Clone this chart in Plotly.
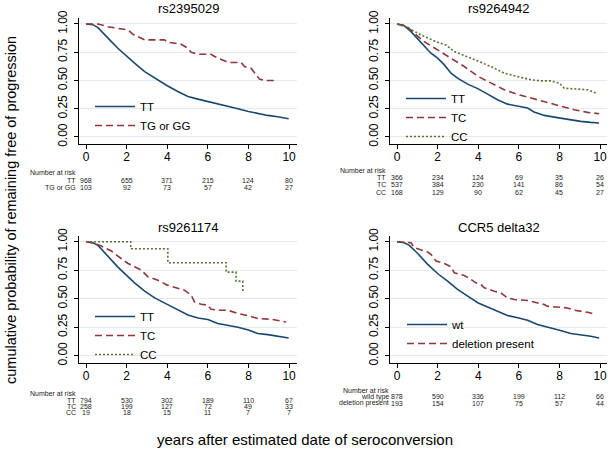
import plotly.graph_objects as go
from plotly.subplots import make_subplots

# ---- data (years, survival probability) ----
# rs2395029
tl_tt_t = [0, 0.34, 0.59, 0.92, 1.25, 1.57, 2.0, 2.39, 2.89, 3.38, 4.0, 4.52, 5.02, 5.51, 6.0, 6.49, 6.98, 7.48, 8.0, 8.46, 8.95, 9.44, 9.98]
tl_tt_s = [1.0, 0.994, 0.968, 0.903, 0.844, 0.785, 0.712, 0.653, 0.579, 0.521, 0.453, 0.403, 0.359, 0.335, 0.315, 0.294, 0.271, 0.25, 0.226, 0.206, 0.191, 0.179, 0.162]
tl_tg_t = [0, 0.59, 1.08, 1.74, 2.07, 2.31, 2.72, 2.89, 3.87, 4.03, 4.69, 5.02, 5.18, 5.51, 6.16, 6.33, 6.9, 7.15, 7.64, 7.8, 8.13, 8.3, 8.54, 8.79, 9.28]
tl_tg_s = [1.0, 1.0, 0.976, 0.956, 0.947, 0.909, 0.874, 0.859, 0.859, 0.838, 0.821, 0.785, 0.75, 0.732, 0.732, 0.712, 0.668, 0.659, 0.659, 0.624, 0.609, 0.565, 0.512, 0.5, 0.5]

# rs9264942
tr_tt_t = [0, 0.36, 0.69, 1.02, 1.34, 1.67, 2.0, 2.33, 2.66, 2.98, 3.48, 4.0, 4.46, 4.95, 5.44, 6.0, 6.43, 6.75, 7.25, 7.74, 8.0, 8.56, 9.05, 9.54, 9.95]
tr_tt_s = [1.0, 0.985, 0.932, 0.868, 0.8, 0.741, 0.697, 0.638, 0.565, 0.521, 0.468, 0.426, 0.379, 0.329, 0.291, 0.27, 0.256, 0.221, 0.191, 0.176, 0.168, 0.153, 0.138, 0.129, 0.124]
tr_tc_t = [0, 0.44, 0.85, 1.34, 2.0, 2.66, 3.31, 4.0, 4.62, 5.28, 6.0, 6.59, 7.25, 8.0, 8.72, 9.38, 9.95]
tr_tc_s = [1.0, 0.985, 0.918, 0.844, 0.771, 0.697, 0.624, 0.535, 0.476, 0.418, 0.374, 0.344, 0.315, 0.279, 0.241, 0.218, 0.206]
tr_cc_t = [0, 0.52, 1.18, 2.0, 2.41, 2.82, 3.31, 4.0, 4.62, 5.28, 6.0, 6.59, 7.08, 7.57, 8.0, 8.23, 8.72, 9.38, 9.79]
tr_cc_s = [1.0, 0.968, 0.903, 0.838, 0.815, 0.756, 0.721, 0.668, 0.624, 0.565, 0.535, 0.506, 0.497, 0.497, 0.476, 0.432, 0.426, 0.418, 0.388]

# rs9261174
bl_tt_t = [0, 0.34, 0.59, 0.92, 1.25, 1.57, 2.0, 2.39, 2.89, 3.38, 4.0, 4.52, 5.02, 5.51, 6.0, 6.49, 6.98, 7.48, 8.0, 8.46, 8.95, 9.44, 9.98]
bl_tt_s = [1.0, 0.991, 0.968, 0.903, 0.839, 0.777, 0.704, 0.639, 0.566, 0.507, 0.45, 0.405, 0.358, 0.331, 0.318, 0.283, 0.267, 0.25, 0.226, 0.194, 0.185, 0.17, 0.155]
bl_tc_t = [0, 0.43, 0.75, 1.25, 1.57, 2.07, 2.39, 2.72, 3.05, 3.54, 4.0, 4.52, 4.85, 5.18, 5.34, 5.67, 6.0, 6.16, 6.49, 6.98, 7.48, 8.0, 8.46, 9.11, 9.44, 9.85]
bl_tc_s = [1.0, 0.985, 0.962, 0.918, 0.874, 0.809, 0.78, 0.751, 0.692, 0.663, 0.619, 0.589, 0.575, 0.531, 0.472, 0.452, 0.443, 0.408, 0.399, 0.399, 0.37, 0.35, 0.326, 0.32, 0.311, 0.296]
bl_cc_t = [0, 2.2, 4.03, 6.9, 7.39, 7.72]
bl_cc_s = [1.0, 0.938, 0.815, 0.733, 0.654, 0.566]

# CCR5 delta32
br_wt_t = [0, 0.36, 0.61, 1.02, 1.51, 2.0, 2.49, 2.98, 3.48, 4.0, 4.46, 4.95, 5.44, 6.0, 6.43, 6.92, 7.41, 8.0, 8.56, 9.05, 9.54, 9.95]
br_wt_s = [1.0, 0.991, 0.968, 0.897, 0.801, 0.721, 0.654, 0.581, 0.522, 0.463, 0.428, 0.39, 0.352, 0.331, 0.311, 0.273, 0.252, 0.223, 0.194, 0.185, 0.17, 0.155]
br_del_t = [0, 0.69, 0.85, 1.18, 1.51, 1.67, 1.92, 2.33, 2.66, 2.82, 3.31, 3.64, 3.89, 4.13, 4.3, 4.79, 5.11, 5.44, 5.77, 6.43, 6.75, 7.25, 7.41, 8.0, 8.39, 8.72, 9.38, 9.79]
br_del_s = [1.0, 0.991, 0.947, 0.927, 0.909, 0.889, 0.83, 0.809, 0.78, 0.727, 0.704, 0.669, 0.639, 0.625, 0.595, 0.566, 0.551, 0.507, 0.493, 0.484, 0.469, 0.449, 0.434, 0.428, 0.419, 0.399, 0.381, 0.361]

# number at risk tables
risk_times = [0, 2, 4, 6, 8, 10]
tl_risk = {"TT": [968, 655, 371, 215, 124, 80], "TG or GG": [103, 92, 73, 57, 42, 27]}
tr_risk = {"TT": [366, 234, 124, 69, 35, 26], "TC": [537, 384, 230, 141, 86, 54], "CC": [168, 129, 90, 62, 45, 27]}
bl_risk = {"TT": [794, 530, 302, 189, 110, 67], "TC": [258, 199, 127, 72, 49, 33], "CC": [19, 18, 15, 11, 7, 7]}
br_risk = {"wild type": [878, 590, 336, 199, 112, 66], "deletion present": [193, 154, 107, 75, 57, 44]}

titles = ["rs2395029", "rs9264942", "rs9261174", "CCR5 delta32"]

W, H = 611, 451
FONT = "Arial, Liberation Sans, sans-serif"
NAVY, MAROON, GREEN = "#1a476f", "#90353b", "#55752f"
DASH, DOT = "7px,4px", "2px,2px"
TABLE_FONT = dict(size=7, color="#222222")


def py(p):
    return 1 - p / H


def px_(p):
    return p / W


fig = make_subplots(rows=2, cols=2)

panels = [
    # row, col, legend, curves, risk table, legend (x, top) px, label right edge px, table rows y px
    (1, 1, "legend", [("TT", tl_tt_t, tl_tt_s, NAVY, "solid", "linear"),
                      ("TG or GG", tl_tg_t, tl_tg_s, MAROON, DASH, "linear")],
     tl_risk, (90, 92), 77, [173, 180.5, 187.5]),
    (1, 2, "legend2", [("TT", tr_tt_t, tr_tt_s, NAVY, "solid", "linear"),
                       ("TC", tr_tc_t, tr_tc_s, MAROON, DASH, "linear"),
                       ("CC", tr_cc_t, tr_cc_s, GREEN, DOT, "linear")],
     tr_risk, (401, 84), 387, [170, 177, 184.5, 192]),
    (2, 1, "legend3", [("TT", bl_tt_t, bl_tt_s, NAVY, "solid", "linear"),
                       ("TC", bl_tc_t, bl_tc_s, MAROON, DASH, "linear"),
                       ("CC", bl_cc_t, bl_cc_s, GREEN, DOT, "hv")],
     bl_risk, (90, 302), 77, [393, 400.5, 406.5, 412.5]),
    (2, 2, "legend4", [("wt", br_wt_t, br_wt_s, NAVY, "solid", "linear"),
                       ("deletion present", br_del_t, br_del_s, MAROON, DASH, "linear")],
     br_risk, (402, 310), 390, [390, 396.5, 403]),
]

for row, col, leg, curves, risk, legpos, lab_x, rows_y in panels:
    for name, t, s, color, dash, shape in curves:
        fig.add_trace(go.Scatter(x=t, y=s, mode="lines", name=name, legend=leg,
                                 line=dict(color=color, width=1.6, dash=dash, shape=shape)),
                      row=row, col=col)

fig.update_layout(
    width=W, height=H, margin=dict(l=0, r=0, t=0, b=0, autoexpand=False),
    paper_bgcolor="white", plot_bgcolor="white",
    font=dict(family=FONT, color="#000000"),
)

# axis domains/ranges chosen from the reference pixel layout
xdom = {1: [px_(79), px_(297)], 2: [px_(390), px_(607)]}
xrng = {1: [-0.345, 10.39], 2: [-0.345, 10.34]}
ydom = {1: [py(144), py(18)], 2: [py(363), py(236)]}
yrng = {1: [-0.062, 1.053], 2: [-0.064, 1.05]}

for row in (1, 2):
    for col in (1, 2):
        fig.update_xaxes(domain=xdom[col], range=xrng[col], tickvals=risk_times, automargin=False,
                         showgrid=False, zeroline=False, showline=True, linecolor="#000000",
                         linewidth=1, ticks="outside", ticklen=4, tickcolor="#000000",
                         ticklabelstandoff=-2, tickfont=dict(size=12), row=row, col=col)
        fig.update_yaxes(domain=ydom[row], range=yrng[row], automargin=False,
                         tickvals=[0, 0.25, 0.5, 0.75, 1.0], tickformat=".2f",
                         tickangle=-90, showgrid=True, gridcolor="#e3ebf0", gridwidth=1,
                         zeroline=False, showline=True, linecolor="#000000", linewidth=1,
                         ticks="outside", ticklen=4, tickcolor="#000000", ticklabelstandoff=2,
                         tickfont=dict(size=12), row=row, col=col)

# legends, one per panel
for row, col, leg, curves, risk, legpos, lab_x, rows_y in panels:
    fig.update_layout({leg: dict(x=px_(legpos[0]), y=py(legpos[1]), xanchor="left", yanchor="top",
                                 bgcolor="rgba(0,0,0,0)", font=dict(size=11.5), tracegroupgap=0,
                                 itemwidth=40)})

# panel titles
title_pos = [(188, 9), (498, 9), (188, 227), (499, 227)]
for text, (tx, ty) in zip(titles, title_pos):
    fig.add_annotation(text=text, x=px_(tx), y=py(ty), xref="paper", yref="paper",
                       showarrow=False, font=dict(size=13), xanchor="center", yanchor="middle")

# number at risk tables
axis_names = ["x", "x2", "x3", "x4"]
for (row, col, leg, curves, risk, legpos, lab_x, rows_y), xr in zip(panels, axis_names):
    fig.add_annotation(text="Number at risk", x=px_(lab_x), y=py(rows_y[0]), xref="paper", yref="paper",
                       showarrow=False, xanchor="right", yanchor="middle", borderpad=0, font=TABLE_FONT)
    for (label, counts), yy in zip(risk.items(), rows_y[1:]):
        fig.add_annotation(text=label, x=px_(lab_x), y=py(yy), xref="paper", yref="paper",
                           showarrow=False, xanchor="right", yanchor="middle", borderpad=0,
                           font=TABLE_FONT)
        for t, n in zip(risk_times, counts):
            fig.add_annotation(text=str(n), x=t, y=py(yy), xref=xr, yref="paper",
                               showarrow=False, xanchor="center", yanchor="middle", borderpad=0,
                               font=TABLE_FONT)

# overall axis titles
fig.add_annotation(text="cumulative probability of remaining free of progression",
                   x=px_(11), y=py(210), xref="paper", yref="paper", textangle=-90,
                   showarrow=False, font=dict(size=14.5), xanchor="center", yanchor="middle")
fig.add_annotation(text="years after estimated date of seroconversion",
                   x=px_(305), y=py(439), xref="paper", yref="paper",
                   showarrow=False, font=dict(size=15), xanchor="center", yanchor="middle")

# the page body has a default 8px margin; drop it so the figure sits at the window's corner
fig.write_html("out.html", config={"displayModeBar": False},
               post_script="document.body.style.margin='0';")
